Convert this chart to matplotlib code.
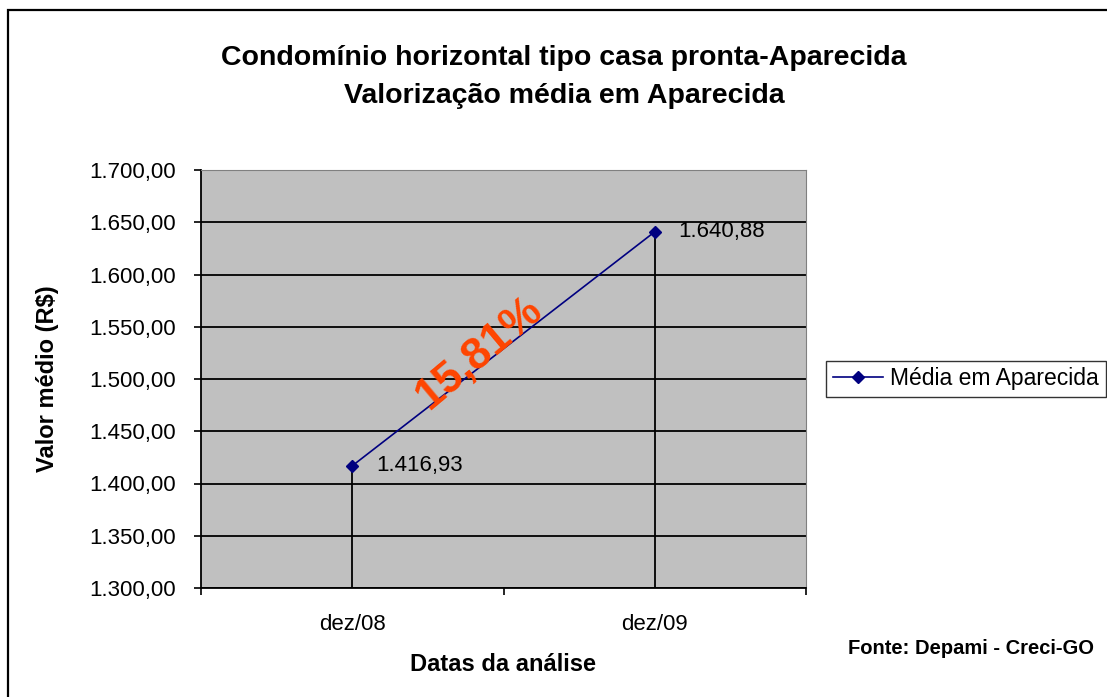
import matplotlib
matplotlib.use("Agg")
import matplotlib.pyplot as plt
from matplotlib.patches import Rectangle

plt.rcParams["font.family"] = ["Liberation Sans", "DejaVu Sans"]

# data
datas = ["dez/08", "dez/09"]
valores = [1416.93, 1640.88]
rotulos = ["1.416,93", "1.640,88"]
yticks = [1300, 1350, 1400, 1450, 1500, 1550, 1600, 1650, 1700]
ytick_labels = ["1.300,00", "1.350,00", "1.400,00", "1.450,00", "1.500,00",
                "1.550,00", "1.600,00", "1.650,00", "1.700,00"]
valorizacao = "15,81%"

NAVY = "#000080"
GREY = "#C0C0C0"
ORANGE = "#FF4500"

W, H = 1107, 697
fig = plt.figure(figsize=(W / 100, H / 100), dpi=100)

# outer chart border (cut off at right and bottom like the source)
fig.patches.append(Rectangle((8 / W, -0.05), 1.2, 1 - 10 / H + 0.05,
                             transform=fig.transFigure, fill=False,
                             edgecolor="black", linewidth=1.6))

ax = fig.add_axes([201 / W, 1 - 588 / H, (806 - 201) / W, (588 - 170) / H])
ax.set_facecolor(GREY)
x = list(range(len(datas)))

for xi, v in zip(x, valores):
    ax.plot([xi, xi], [yticks[0], v], color="black", linewidth=1.3, zorder=2)
line, = ax.plot(x, valores, color=NAVY, marker="D", markersize=6.5,
                linewidth=1.2, label="Média em Aparecida", zorder=3)
for xi, v, lab in zip(x, valores, rotulos):
    ax.annotate(lab, (xi, v), xytext=(17, 0), textcoords="offset points",
                fontsize=16, va="center", ha="left")

ax.text(0.42, 1525, valorizacao, rotation=40, color=ORANGE, fontsize=32,
        fontweight="bold", ha="center", va="center", zorder=4)

ax.set_xlim(-0.5, len(datas) - 0.5)
ax.set_ylim(yticks[0], yticks[-1])
ax.set_yticks(yticks)
ax.set_yticklabels(ytick_labels, fontsize=16)
ax.set_xticks([-0.5, 0.5, 1.5], minor=False)
ax.set_xticklabels([])
ax.set_xticks(x, minor=True)
ax.set_xticklabels(datas, minor=True, fontsize=16)
ax.tick_params(axis="x", which="minor", length=0, pad=19)
ax.tick_params(axis="x", which="major", direction="out", length=5, width=1.2)
ax.tick_params(axis="y", direction="out", length=5, width=1.2, pad=13)
ax.grid(axis="y", color="black", linewidth=1.3)
ax.set_axisbelow(True)
for s in ["top", "right"]:
    ax.spines[s].set_color("#808080")
for s in ["left", "bottom"]:
    ax.spines[s].set_color("black")
    ax.spines[s].set_linewidth(1.3)

ax.set_xlabel("Datas da análise", fontsize=17, fontweight="bold", labelpad=13)
ax.set_ylabel("Valor médio (R$)", fontsize=17, fontweight="bold", labelpad=22)

fig.text(564 / W, 1 - 58 / H, "Condomínio horizontal tipo casa pronta-Aparecida",
         ha="center", va="center", fontsize=20.5, fontweight="bold")
fig.text(564 / W, 1 - 96 / H, "Valorização média em Aparecida",
         ha="center", va="center", fontsize=20.5, fontweight="bold")

fig.legend(handles=[line], loc="center left",
           bbox_to_anchor=(826 / W, 1 - 379 / H), fontsize=16.5,
           frameon=True, fancybox=False, edgecolor="black",
           handlelength=2.2, handletextpad=0.3, borderpad=0.3,
           borderaxespad=0)

fig.text(848 / W, 1 - 648 / H, "Fonte: Depami - Creci-GO", fontsize=14.5,
         fontweight="bold", ha="left", va="center")

fig.savefig("out.png", dpi=100)
